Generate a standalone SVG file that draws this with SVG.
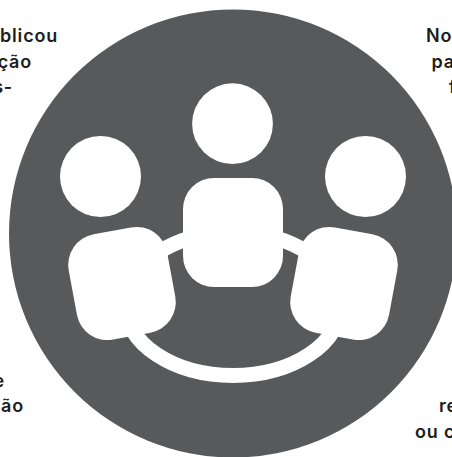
<svg xmlns="http://www.w3.org/2000/svg" width="452" height="457" viewBox="0 0 452 457">
<style>
text{font-family:"Inter","Liberation Sans",sans-serif;font-size:18px;font-weight:600;letter-spacing:.8px;fill:#1d1d1b}
.w{fill:#fff}
</style>
<rect width="452" height="457" fill="#fff"/>
<g id="labels">
<text x="58" y="42" text-anchor="end">blicou</text>
<text x="32" y="68" text-anchor="end">ção</text>
<text x="13" y="93" text-anchor="end">s-</text>
<text x="426" y="42">No</text>
<text x="431.5" y="68">pa</text>
<text x="449" y="93">f</text>
<text x="5" y="387" text-anchor="end">e</text>
<text x="24" y="412" text-anchor="end">ão</text>
<text x="439" y="412">re</text>
<text x="415" y="438">ou c</text>
</g>
<circle id="background" cx="233" cy="233.5" r="224" fill="#58595b"/>
<g id="connectors">
<ellipse cx="233" cy="304" rx="108" ry="71.5" fill="none" stroke="#fff" stroke-width="15"/>
</g>
<g id="person-centre">
<circle class="w" cx="232.5" cy="123.7" r="40.4"/>
<rect class="w" x="183" y="178" width="100" height="109" rx="31"/>
</g>
<g id="person-left">
<circle class="w" cx="100.5" cy="176.5" r="40.5"/>
<rect class="w" x="72" y="230" width="100" height="107" rx="31" transform="rotate(-10.5 122 283.5)"/>
</g>
<g id="person-right">
<circle class="w" cx="365.5" cy="176.5" r="40.5"/>
<rect class="w" x="294" y="230" width="100" height="107" rx="31" transform="rotate(10.5 344 283.5)"/>
</g>
</svg>
